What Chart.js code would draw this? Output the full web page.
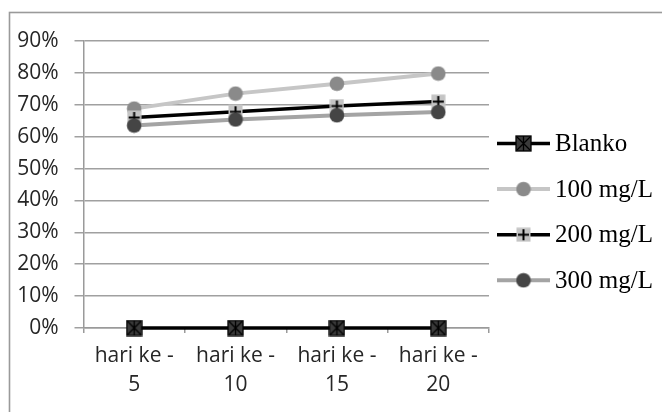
<!DOCTYPE html>
<html>
<head>
<meta charset="utf-8">
<script src="https://cdn.jsdelivr.net/npm/chart.js@4/dist/chart.umd.min.js"></script>
<style>
  html, body { margin: 0; padding: 0; background: #ffffff; }
  #wrap { width: 662px; height: 412px; }
</style>
</head>
<body>
<div id="wrap"><canvas id="c" width="662" height="412"></canvas></div>
<script>
// Days of observation
const categories = [['hari ke -', '5'], ['hari ke -', '10'], ['hari ke -', '15'], ['hari ke -', '20']];

// Inhibition per treatment (fraction, shown as %)
const blanko = [0, 0, 0, 0];
const dose100 = [0.688, 0.735, 0.766, 0.798];
const dose200 = [0.66, 0.678, 0.696, 0.71];
const dose300 = [0.635, 0.654, 0.667, 0.677];

const seriesNames = ['Blanko', '100 mg/L', '200 mg/L', '300 mg/L'];

// Y axis range and step
const yMin = 0, yMax = 0.9, yStep = 0.1;

// Small marker images
function makeMarker(size, draw) {
  const c = document.createElement('canvas');
  c.width = size; c.height = size;
  draw(c.getContext('2d'), size);
  return c;
}
const starSquare = makeMarker(17, (ctx, s) => {
  ctx.fillStyle = '#3a3a3a';
  ctx.fillRect(1, 1, s - 2, s - 2);
  ctx.strokeStyle = '#000';
  ctx.lineWidth = 1.3;
  ctx.strokeRect(1, 1, s - 2, s - 2);
  ctx.beginPath();
  ctx.moveTo(2, 2); ctx.lineTo(s - 2, s - 2);
  ctx.moveTo(s - 2, 2); ctx.lineTo(2, s - 2);
  ctx.moveTo(s / 2, 1); ctx.lineTo(s / 2, s - 1);
  ctx.stroke();
});
const greyDot = makeMarker(16, (ctx, s) => {
  ctx.fillStyle = '#8a8a8a';
  ctx.beginPath(); ctx.arc(s / 2, s / 2, 7.3, 0, Math.PI * 2); ctx.fill();
});
const plusSquare = makeMarker(15, (ctx, s) => {
  ctx.fillStyle = '#c4c4c4';
  ctx.fillRect(0.5, 0.5, s - 1, s - 1);
  ctx.strokeStyle = '#000';
  ctx.lineWidth = 2;
  ctx.beginPath();
  ctx.moveTo(s / 2, 2); ctx.lineTo(s / 2, s - 2);
  ctx.moveTo(2, s / 2); ctx.lineTo(s - 2, s / 2);
  ctx.stroke();
});
const darkDot = makeMarker(16, (ctx, s) => {
  ctx.fillStyle = '#454545';
  ctx.beginPath(); ctx.arc(s / 2, s / 2, 7.3, 0, Math.PI * 2); ctx.fill();
});

const lineColors = ['#000000', '#c6c6c6', '#000000', '#a4a4a4'];
const lineWidths = [3.5, 4, 3.5, 4];
const markers = [starSquare, greyDot, plusSquare, darkDot];
const seriesData = [blanko, dose100, dose200, dose300];

// Outer frame of the chart
const framePlugin = {
  id: 'frame',
  beforeDraw(chart) {
    const ctx = chart.ctx;
    ctx.save();
    ctx.fillStyle = '#ffffff';
    ctx.fillRect(0, 0, chart.width, chart.height);
    ctx.strokeStyle = '#9a9a9a';
    ctx.lineWidth = 1.6;
    ctx.strokeRect(9.5, 12.5, 800, 600);
    ctx.restore();
  }
};

// Legend on the right: line sample with marker, then the series name
const sideLegend = {
  id: 'sideLegend',
  afterDraw(chart) {
    const ctx = chart.ctx;
    ctx.save();
    chart.data.datasets.forEach((ds, i) => {
      const y = 143.5 + i * 45.6;
      ctx.strokeStyle = ds.borderColor;
      ctx.lineWidth = ds.borderWidth;
      ctx.beginPath();
      ctx.moveTo(497, y);
      ctx.lineTo(550, y);
      ctx.stroke();
      const m = ds.pointStyle;
      ctx.drawImage(m, 523.5 - m.width / 2, y - m.height / 2);
      ctx.fillStyle = '#000';
      ctx.font = '25px "Liberation Serif", "Times New Roman", serif';
      ctx.textBaseline = 'middle';
      ctx.textAlign = 'left';
      ctx.fillText(ds.label, 555, y + 1);
    });
    ctx.restore();
  }
};

const datasets = seriesNames.map((name, i) => ({
  label: name,
  data: seriesData[i],
  borderColor: lineColors[i],
  backgroundColor: lineColors[i],
  borderWidth: lineWidths[i],
  pointStyle: markers[i],
  pointRadius: 8,
  pointHoverRadius: 8,
  tension: 0,
  clip: false,
  order: seriesNames.length - 1 - i
}));

new Chart(document.getElementById('c'), {
  type: 'line',
  data: { labels: categories, datasets },
  plugins: [framePlugin, sideLegend],
  options: {
    responsive: false,
    animation: false,
    devicePixelRatio: 1,
    layout: { padding: { top: 41, right: 173, bottom: 0, left: 0 } },
    plugins: { legend: { display: false }, tooltip: { enabled: false } },
    scales: {
      x: {
        type: 'category',
        offset: true,
        grid: {
          offset: true,
          drawOnChartArea: false,
          drawTicks: true,
          tickLength: 5,
          color: '#9a9a9a',
          lineWidth: 1.5
        },
        border: { display: true, color: '#9a9a9a', width: 1.5 },
        ticks: {
          color: '#262626',
          padding: 8,
          maxRotation: 0,
          autoSkip: false,
          font: { family: '"Open Sans", sans-serif', size: 21, lineHeight: 1.4 }
        },
        afterFit(scale) { scale.height = 84; }
      },
      y: {
        min: yMin,
        max: yMax,
        grid: {
          color: '#a0a0a0',
          lineWidth: 1.5,
          drawTicks: true,
          tickLength: 9
        },
        border: { display: true, color: '#9a9a9a', width: 1.5 },
        ticks: {
          stepSize: yStep,
          color: '#262626',
          padding: 16,
          font: { family: '"Open Sans", sans-serif', size: 21 },
          callback: v => Math.round(v * 100) + '%'
        },
        afterFit(scale) { scale.width = 83.5; }
      }
    }
  }
});
</script>
</body>
</html>
